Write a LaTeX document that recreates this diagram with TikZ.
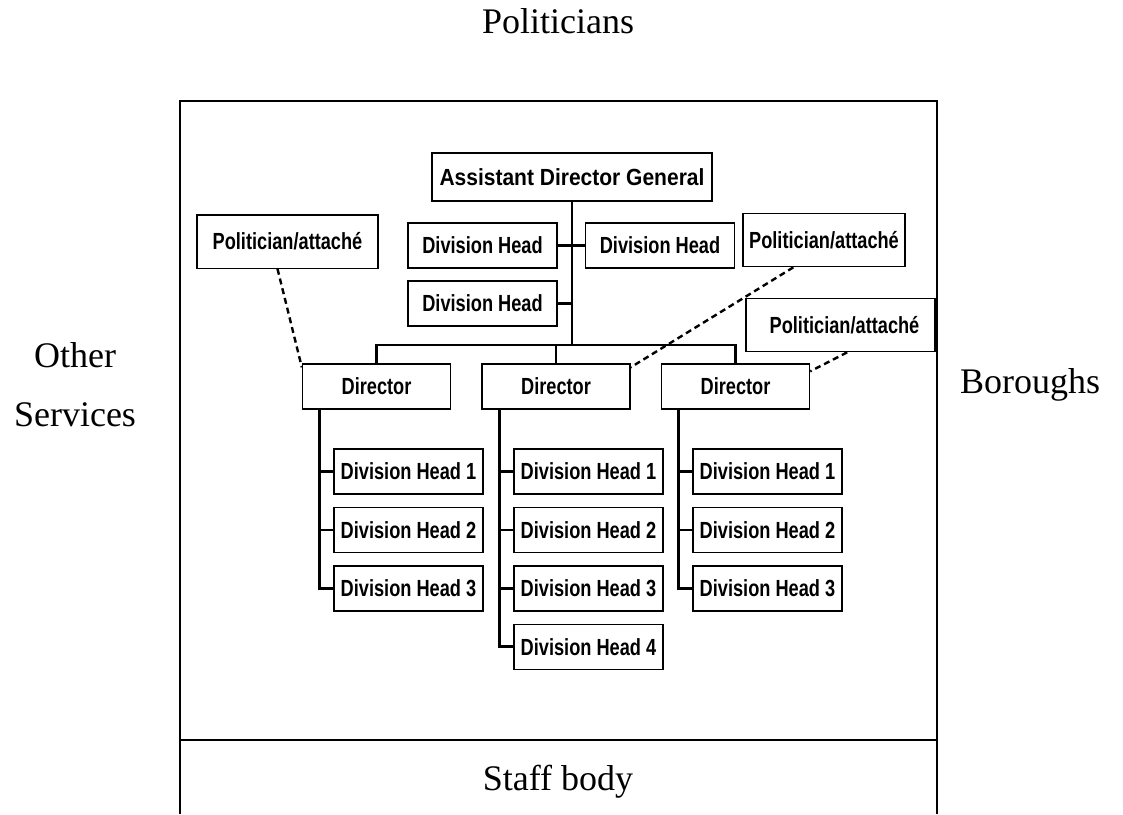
\documentclass[tikz,border=0pt]{standalone}
\usepackage{fontspec}
\setmainfont{Liberation Serif}
\newfontfamily\boxfont[FakeStretch=0.78]{Liberation Sans}
\newfontfamily\headfont[FakeStretch=0.9]{Liberation Sans}
\usepackage{tikz}
\usetikzlibrary{positioning, calc}

\begin{document}
\begin{tikzpicture}[
  x=0.75pt, y=-0.75pt,
  box/.style={rectangle, draw, line width=1pt, align=center,
    minimum width=111.75pt, minimum height=33.75pt, inner sep=2pt,
    font=\boxfont\bfseries\fontsize{17.5}{20}\selectfont},
  polbox/.style={box, minimum height=40pt},
  link/.style={line width=2.2pt},
  attach/.style={line width=1.8pt, dash pattern=on 4.5pt off 3pt},
  frame/.style={line width=1.5pt},
  outer/.style={font=\fontsize{27}{44}\selectfont, align=center},
]
  \useasboundingbox (0,0) rectangle (1123,814);

  % Surroundings
  \node[outer, anchor=base] (pols) at (558,33) {Politicians};
  \node[outer] (other) at (75,385) {Other\\Services};
  \node[outer] (boro) at (1030,385) {Boroughs};
  \node[outer, anchor=base] (staff) at (558,790) {Staff body};
  \draw[frame] (180,814) -- (180,101) -- (937,101) -- (937,814);
  \draw[frame] (180,740) -- (937,740);

  % Top
  \node[box, minimum width=210pt, minimum height=36pt,
    font=\headfont\bfseries\fontsize{17.5}{20}\selectfont] (adg)
    at (572,177) {Assistant Director General};
  \node[box] (dha) at (482.5,245.5) {Division Head};
  \node[box] (dhb) at (660,245.5) {Division Head};
  \node[box] (dhc) at (482.5,303.5) {Division Head};

  % Politicians/attachés
  \node[polbox, minimum width=135.75pt] (p1) at (287.5,241.5) {Politician/attaché};
  \node[polbox, minimum width=121.5pt] (p2) at (824,240) {Politician/attaché};
  \node[polbox, minimum width=141.75pt] (p3) at (840.5,325) {\hspace{6pt}Politician/attaché};

  % Directors
  \node[box, minimum width=111pt] (d1) at (376.5,386.5) {Director};
  \node[box, minimum width=111pt] (d2) at (556,386.5) {Director};
  \node[box, minimum width=111pt] (d3) at (735.5,386.5) {Director};

  % Division heads
  \foreach \c/\x/\n in {1/408.5/3, 2/588.5/4, 3/767.5/3} {
    \foreach \i in {1,...,\n}
      \node[box] (h\c-\i) at (\x,{413.2+58.4*\i}) {Division Head \i};
  }

  % Lines
  \coordinate (bus) at (0,345);
  \draw[link] (adg.south) -- (adg.south |- bus);
  \draw[link] (dha.east) -- (dhb.west);
  \draw[link] (dhc.east) -- (dhc.east -| adg.south);
  \draw[link] (d1.north) -- (d1.north |- bus) -- (d3.north |- bus) -- (d3.north);
  \draw[link] (d2.north) -- (d2.north |- bus);
  \foreach \c/\n in {1/3, 2/4, 3/3} {
    \coordinate (t\c) at ([xshift=-10.5pt]h\c-1.west);
    \draw[link] (d\c.south -| t\c) |- (h\c-\n.west);
    \foreach \i in {1,...,\n}
      \draw[link] (h\c-\i.west) -- (h\c-\i.west -| t\c);
  }
  \draw[attach] ([xshift=-7.5pt]p1.south) -- ([yshift=-3pt]d1.north west);
  \draw[attach] ([xshift=-23pt]p2.south) -- ([yshift=-3pt]d2.north east);
  \draw[attach] ([xshift=5pt]p3.south) -- ([yshift=-6pt]d3.north east);
\end{tikzpicture}
\end{document}
